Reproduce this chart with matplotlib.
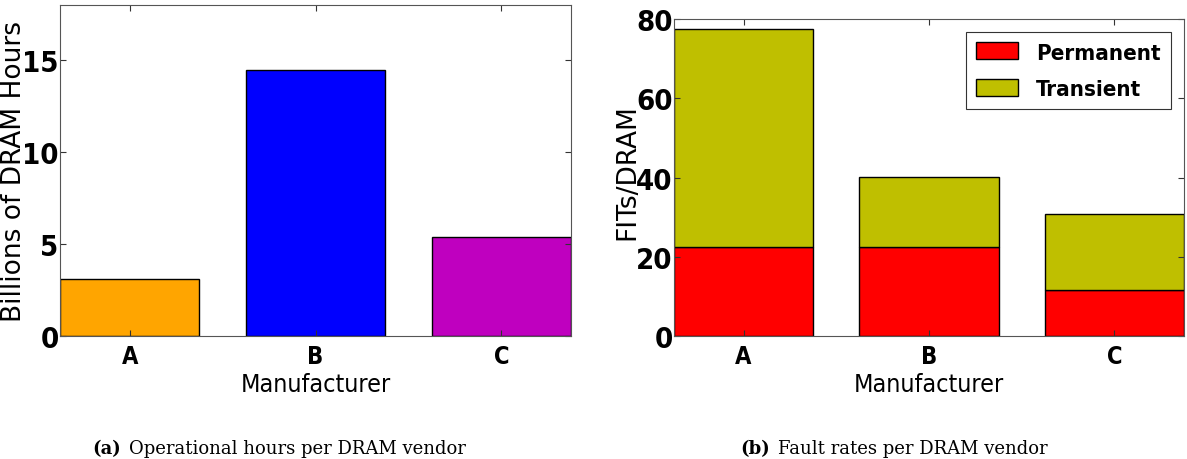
import matplotlib
matplotlib.use("Agg")
import matplotlib.pyplot as plt

vendors = ["A", "B", "C"]
hours = [3.1, 14.45, 5.4]
hour_colors = ["orange", "blue", "m"]
permanent = [22.5, 22.5, 11.6]
transient = [55.0, 17.6, 19.3]

cond = dict(family="DejaVu Sans", stretch="condensed")

fig = plt.figure(figsize=(11.87, 4.6), dpi=100)
ax1 = fig.add_axes([60 / 1187, 1 - 337 / 460, 511 / 1187, 331 / 460])
ax2 = fig.add_axes([674 / 1187, 1 - 337 / 460, 510 / 1187, 317 / 460])

x = range(len(vendors))
ax1.bar(x, hours, width=0.75, color=hour_colors, edgecolor="black", linewidth=1)
ax1.set_ylim(0, 18)
ax1.set_yticks([0, 5, 10, 15])
ax1.set_ylabel("Billions of DRAM Hours", fontsize=19, family="DejaVu Sans")
ax1.yaxis.set_label_coords(-(60 - 27) / 511, 0.5)

ax2.bar(x, permanent, width=0.75, color="red", edgecolor="black", linewidth=1, label="Permanent")
ax2.bar(x, transient, width=0.75, bottom=permanent, color="#bfbf00", edgecolor="black",
        linewidth=1, label="Transient")
ax2.set_ylim(0, 80)
ax2.set_yticks([0, 20, 40, 60, 80])
ax2.set_ylabel("FITs/DRAM", fontsize=19, family="DejaVu Sans")
ax2.yaxis.set_label_coords(-(674 - 640) / 510, (337 - 172) / 317)
leg = ax2.legend(loc="upper right", prop=dict(cond, weight="bold", size=16),
                 fancybox=False, edgecolor="#333333", framealpha=1, handlelength=1.9,
                 handleheight=0.8, handletextpad=0.8, borderpad=0.45, labelspacing=0.75,
                 borderaxespad=0.6)
leg.get_frame().set_linewidth(0.8)

for ax in (ax1, ax2):
    ax.set_xlim(-0.375, 2.375)
    ax.set_xticks(list(x))
    ax.set_xticklabels(vendors)
    ax.set_xlabel("Manufacturer", fontsize=18, labelpad=3, **cond)
    ax.tick_params(direction="in", top=True, right=True, length=4, color="#333333")
    ax.tick_params(axis="y", pad=1)
    ax.tick_params(axis="x", pad=6)
    for lab in ax.get_yticklabels():
        lab.set_family("DejaVu Sans")
        lab.set_stretch("condensed")
        lab.set_weight("bold")
        lab.set_fontsize(21)
    for lab in ax.get_xticklabels():
        lab.set_family("DejaVu Sans")
        lab.set_stretch("condensed")
        lab.set_weight("bold")
        lab.set_fontsize(17)
    for s in ax.spines.values():
        s.set_color("#555555")

fig.text(92 / 1187, 1 - 449 / 460, "(a)", fontsize=13, family="DejaVu Serif",
         weight="bold", va="center")
fig.text(129 / 1187, 1 - 449 / 460, "Operational hours per DRAM vendor", fontsize=13,
         family="DejaVu Serif", va="center")
fig.text(740 / 1187, 1 - 449 / 460, "(b)", fontsize=13, family="DejaVu Serif",
         weight="bold", va="center")
fig.text(778 / 1187, 1 - 449 / 460, "Fault rates per DRAM vendor", fontsize=13,
         family="DejaVu Serif", va="center")

fig.savefig("out.png", dpi=100)
